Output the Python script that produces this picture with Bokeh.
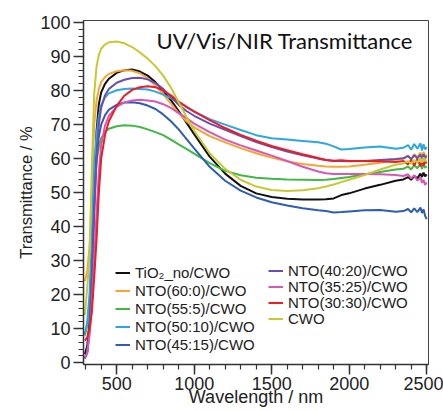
from bokeh.plotting import figure
from bokeh.models import Label, Legend, LegendItem, SingleIntervalTicker
from bokeh.embed import file_html
from bokeh.resources import INLINE

wavelength = [295, 310, 325, 340, 355, 370, 385, 400, 425, 450, 500, 550, 600, 650, 700,
              750, 800, 850, 900, 950, 1000, 1100, 1200, 1300, 1400, 1500, 1600, 1700,
              1800, 1850, 1900, 1950, 2000, 2100, 2200, 2300, 2350, 2380, 2400, 2420,
              2440, 2460, 2470, 2480, 2490, 2500]

tio2_no = [2.5, 5, 12, 28, 50, 68, 76, 79.5, 82, 83.5, 85.2, 86, 86.2, 85.6, 84.4,
           82.5, 80.0, 77.2, 74.0, 70.6, 67.2, 60.6, 55.6, 52.0, 49.8, 48.7, 48.2, 48.0,
           48.0, 48.1, 48.3, 49.3, 49.8, 51.2, 52.3, 53.5, 53.9, 54.6, 53.8, 54.9,
           54.2, 55.6, 54.6, 55.9, 54.8, 55.4]
nto_60_0 = [24, 27, 34, 50, 70, 77, 80.5, 82.5, 84, 84.9, 85.7, 86.0, 85.8, 85.1, 83.6,
            81.5, 79.0, 76.2, 73.4, 71.0, 69.2, 66.6, 64.8, 63.1, 61.6, 60.3, 59.2, 58.4,
            57.9, 57.7, 57.6, 57.6, 57.7, 58.2, 58.8, 59.7, 60.0, 60.8, 59.9, 61.3,
            60.4, 61.8, 60.5, 62.0, 60.6, 61.2]
nto_55_5 = [8, 11, 18, 33, 50, 59, 63.5, 66, 67.8, 68.8, 69.5, 69.8, 69.7, 69.3, 68.6,
            67.8, 66.9, 65.6, 64.2, 62.9, 61.5, 58.7, 56.4, 55.1, 54.4, 54.1, 53.9, 53.8,
            53.7, 53.8, 54.0, 54.3, 54.6, 55.4, 56.1, 56.8, 57.0, 57.7, 56.8, 58.1,
            57.2, 58.4, 57.0, 58.5, 57.3, 57.8]
nto_50_10 = [8.5, 12, 20, 38, 58, 67, 72.5, 75.8, 78, 79.2, 80.1, 80.5, 80.6, 80.5, 80.3,
             79.7, 78.8, 77.8, 76.6, 75.2, 73.9, 71.6, 70.0, 68.4, 66.9, 66.0, 65.6, 65.2,
             64.8, 64.4, 63.6, 62.7, 62.8, 63.3, 63.6, 62.9, 63.2, 64.0, 62.6, 64.3,
             62.9, 64.5, 62.4, 64.2, 62.7, 63.4]
nto_45_15 = [1.2, 3, 10, 26, 46, 60, 66.5, 70, 72.8, 74.4, 75.8, 76.5, 76.6, 76.3, 75.6,
             74.6, 73.0, 71.0, 68.6, 65.8, 63.0, 57.6, 53.5, 50.6, 48.6, 47.2, 46.2, 45.4,
             44.8, 44.6, 44.2, 44.3, 44.5, 44.8, 44.9, 44.4, 44.6, 45.2, 44.2, 45.4,
             44.3, 45.6, 44.0, 45.1, 43.2, 42.2]
nto_40_20 = [1.5, 3, 10, 24, 43, 60, 70, 75, 78.6, 80.5, 82.3, 83.2, 83.7, 83.8, 83.3,
             82.2, 80.5, 78.2, 75.8, 74.0, 72.6, 70.3, 68.5, 66.6, 64.9, 63.4, 62.1, 61.0,
             60.0, 59.6, 59.3, 59.3, 59.2, 59.3, 59.6, 59.9, 60.1, 60.8, 59.8, 61.0,
             60.1, 61.2, 60.0, 61.3, 60.2, 60.7]
nto_35_25 = [1.5, 3, 8, 17, 30, 44, 56, 64, 69.8, 72.6, 75.2, 76.5, 77.1, 77.3, 77.1,
             76.8, 76.0, 74.9, 73.4, 71.9, 70.3, 67.8, 65.6, 63.9, 62.4, 60.9, 59.3, 57.6,
             56.2, 55.7, 55.5, 55.5, 55.5, 55.5, 55.4, 55.2, 54.9, 55.4, 54.2, 55.1,
             53.6, 54.5, 52.9, 53.8, 52.3, 53.0]
nto_30_30 = [6.5, 7.5, 10, 15, 25, 36, 50, 60, 67, 71, 75.5, 78.5, 80.2, 81.0, 81.3,
             81.0, 80.0, 78.6, 76.8, 75.2, 73.8, 71.3, 69.0, 67.0, 65.3, 63.7, 62.5, 61.3,
             60.2, 59.6, 59.4, 59.5, 59.3, 59.3, 59.2, 59.0, 59.3, 58.3, 59.6, 58.0,
             59.8, 57.8, 59.5, 57.9, 59.2, 58.6]
cwo = [14, 22, 32, 58, 79, 87, 90.5, 92.3, 93.6, 94.2, 94.4, 93.9, 92.8, 91.2, 89.4,
       87.2, 84.4, 80.9, 76.6, 72.3, 68.2, 61.6, 57.0, 53.8, 51.8, 50.8, 50.5, 50.7,
       51.3, 51.8, 52.4, 53.1, 53.8, 55.2, 56.8, 58.2, 58.6, 59.3, 58.5, 59.6,
       58.9, 60.1, 58.8, 60.4, 59.2, 59.8]

labels_left = ["TiO\u2082_no/CWO", "NTO(60:0)/CWO", "NTO(55:5)/CWO", "NTO(50:10)/CWO", "NTO(45:15)/CWO"]
labels_right = ["NTO(40:20)/CWO", "NTO(35:25)/CWO", "NTO(30:30)/CWO", "CWO"]
series_left = [tio2_no, nto_60_0, nto_55_5, nto_50_10, nto_45_15]
series_right = [nto_40_20, nto_35_25, nto_30_30, cwo]
colors_left = ["#111111", "#f7a531", "#3fb944", "#2aa8e2", "#2e5db3"]
colors_right = ["#6a4fb3", "#d857b4", "#ee1c24", "#c8c832"]

FONT = "Liberation Sans"
AX = "#333333"

p = figure(width=443, height=411, x_range=(286, 2512), y_range=(-0.5, 100.6),
           output_backend="svg", toolbar_location=None,
           min_border_left=83, min_border_right=15, min_border_top=20, min_border_bottom=47)
p.title.visible = False
p.grid.visible = False
p.outline_line_color = "#444444"
p.outline_line_width = 1

p.xaxis.ticker = SingleIntervalTicker(interval=500, num_minor_ticks=5)
p.yaxis.ticker = SingleIntervalTicker(interval=10, num_minor_ticks=5)
for ax in (p.xaxis[0], p.yaxis[0]):
    ax.axis_line_color = AX
    ax.axis_line_width = 1.5
    ax.major_tick_line_color = AX
    ax.minor_tick_line_color = AX
    ax.major_tick_line_width = 1.5
    ax.minor_tick_line_width = 1.2
    ax.major_tick_out = 10
    ax.major_tick_in = 0
    ax.minor_tick_out = 5
    ax.minor_tick_in = 0
    ax.major_label_text_font = FONT
    ax.major_label_text_font_size = "18px"
    ax.major_label_text_color = "#222222"
    ax.axis_label_text_font = FONT
    ax.axis_label_text_font_style = "normal"
    ax.axis_label_text_color = "#222222"

p.yaxis.major_label_standoff = 3
p.yaxis.axis_label = "Transmittance / %"
p.yaxis.axis_label_text_font_size = "16.5px"
p.yaxis.axis_label_standoff = 2
p.xaxis.major_label_standoff = 2
p.xaxis.axis_label = "Wavelength / nm"
p.xaxis.axis_label_text_font_size = "18px"
p.xaxis.axis_label_standoff = -6

rl = [p.line(wavelength, ys, line_color=c, line_width=2)
      for ys, c in zip(series_left, colors_left)]
rr = [p.line(wavelength, ys, line_color=c, line_width=2)
      for ys, c in zip(series_right, colors_right)]

def make_legend(labels, rends, loc, spacing=1):
    lg = Legend(items=[LegendItem(label=l, renderers=[r]) for l, r in zip(labels, rends)],
                location=loc, orientation="vertical")
    lg.border_line_color = None
    lg.background_fill_alpha = 0
    lg.padding = 0
    lg.margin = 0
    lg.spacing = spacing
    lg.glyph_width = 15
    lg.glyph_height = 15
    lg.label_height = 15
    lg.label_standoff = 5
    lg.label_text_font = FONT
    lg.label_text_font_size = "15px"
    lg.label_text_color = "#222222"
    return lg

p.add_layout(make_legend(labels_left, rl, (32, 11), 1))
for lab, r, yloc in zip(labels_right, rr, [85, 69, 53, 37]):
    p.add_layout(make_legend([lab], [r], (185, yloc)))

p.add_layout(Label(x=2412, y=94.8, text="UV/Vis/NIR Transmittance", text_align="right",
                   text_baseline="middle", text_font="Lato", text_font_size="22px",
                   text_color="#111111"))

open("out.html", "w").write(file_html(p, INLINE))
